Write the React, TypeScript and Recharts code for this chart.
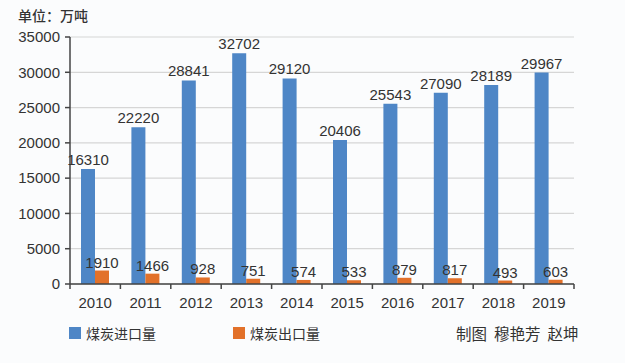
import React from "react";
import { BarChart, Bar, XAxis, YAxis, CartesianGrid, LabelList } from "recharts";

const years = ["2010", "2011", "2012", "2013", "2014", "2015", "2016", "2017", "2018", "2019"];
const imports = [16310, 22220, 28841, 32702, 29120, 20406, 25543, 27090, 28189, 29967];
const exports = [1910, 1466, 928, 751, 574, 533, 879, 817, 493, 603];
const yTicks = [0, 5000, 10000, 15000, 20000, 25000, 30000, 35000];

const data = years.map((y, i) => ({ year: y, imp: imports[i], exp: exports[i] }));

const BLUE = "#4e86c6";
const ORANGE = "#e2712a";
const TEXT = "#333333";
const FONT = "'Liberation Sans', Arial, 'Noto Sans CJK SC', sans-serif";
const CJK = "'Noto Sans CJK SC', sans-serif";

const XTick = (props: any) => {
  const { x, y, payload, index, visibleTicksCount } = props;
  const off = payload.offset || 0;
  const last = index === visibleTicksCount - 1;
  return (
    <g>
      <line x1={x - off} y1={y} x2={x - off} y2={y + 5} stroke="#444" strokeWidth={1.5} />
      {last && <line x1={x + off} y1={y} x2={x + off} y2={y + 5} stroke="#444" strokeWidth={1.5} />}
      <text x={x} y={y + 24} textAnchor="middle" fill={TEXT} fontSize={15} fontFamily={FONT}>
        {payload.value}
      </text>
    </g>
  );
};

export default function App() {
  return (
    <div style={{ position: "absolute", left: 0, top: 0, width: 625, height: 363, background: "#fbfcfd" }}>
      <div style={{ position: "absolute", left: 18, top: 5, fontSize: 14, fontWeight: 500, color: TEXT, fontFamily: CJK }}>
        单位：万吨
      </div>
      <BarChart
        width={625}
        height={363}
        data={data}
        margin={{ top: 37, right: 51, bottom: 49, left: 0 }}
        barCategoryGap={11}
        barGap={0}
      >
        <CartesianGrid vertical={false} stroke="#d6d6d6" strokeWidth={1.2} />
        <XAxis
          dataKey="year"
          tickSize={0}
          tickMargin={0}
          height={30}
          axisLine={{ stroke: "#444", strokeWidth: 1.5 }}
          tick={<XTick />}
          interval={0}
        />
        <YAxis
          domain={[0, 35000]}
          ticks={yTicks}
          width={70}
          tickSize={5}
          tickMargin={5}
          axisLine={{ stroke: "#444", strokeWidth: 1.5 }}
          tickLine={{ stroke: "#444", strokeWidth: 1.5 }}
          tick={{ fill: TEXT, fontSize: 15, fontFamily: FONT }}
          interval={0}
        />
        <Bar dataKey="imp" fill={BLUE} isAnimationActive={false}>
          <LabelList dataKey="imp" position="top" fill={TEXT} fontSize={15} fontFamily={FONT} offset={4} />
        </Bar>
        <Bar dataKey="exp" fill={ORANGE} isAnimationActive={false}>
          <LabelList dataKey="exp" position="top" fill={TEXT} fontSize={15} fontFamily={FONT} offset={3} />
        </Bar>
      </BarChart>
      <div style={{ position: "absolute", left: 69, top: 327, width: 12, height: 12, background: BLUE }} />
      <div style={{ position: "absolute", left: 86, top: 324, fontSize: 14, color: TEXT, fontFamily: CJK, lineHeight: "18px" }}>
        煤炭进口量
      </div>
      <div style={{ position: "absolute", left: 233, top: 327, width: 12, height: 12, background: ORANGE }} />
      <div style={{ position: "absolute", left: 250, top: 324, fontSize: 14, color: TEXT, fontFamily: CJK, lineHeight: "18px" }}>
        煤炭出口量
      </div>
      <div style={{ position: "absolute", left: 456, top: 323, fontSize: 15.5, color: TEXT, fontFamily: CJK, lineHeight: "20px", whiteSpace: "pre" }}>
        制图  穆艳芳  赵坤
      </div>
    </div>
  );
}
